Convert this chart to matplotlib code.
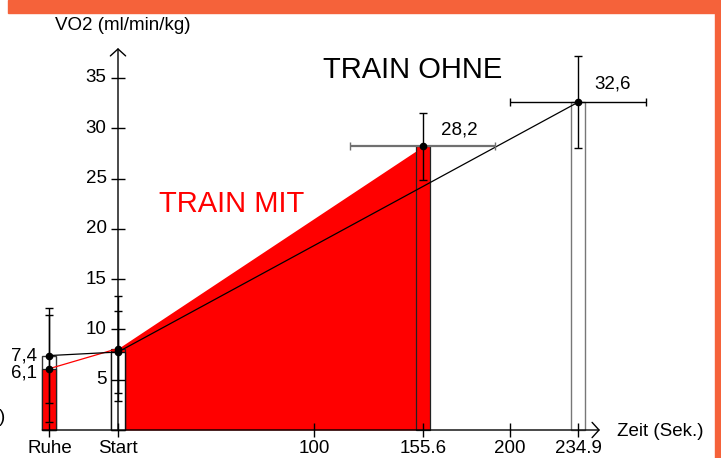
import matplotlib
matplotlib.use("Agg")
import matplotlib.pyplot as plt
from matplotlib.patches import Rectangle

plt.rcParams['font.family'] = ['Liberation Sans', 'DejaVu Sans']

# ---- data -------------------------------------------------------------
tick_pos = [-35, 0, 100, 155.6, 200, 234.9]
tick_labels = ['Ruhe', 'Start', '100', '155.6', '200', '234.9']
y_ticks = [5, 10, 15, 20, 25, 30, 35]

# "TRAIN MIT" series (red)
mit_x = [-35, 0, 155.6]
mit_y = [6.1, 8.1, 28.2]
mit_yerr = [5.3, 5.2, 3.3]
mit_xerr = [0, 0, 37.0]

# "TRAIN OHNE" series (white / black)
ohne_x = [-35, 0, 234.9]
ohne_y = [7.4, 7.75, 32.6]
ohne_yerr = [4.7, 4.05, 4.55]
ohne_xerr = [0, 0, 34.7]

value_labels_mit = {0: '6,1', 2: '28,2'}
value_labels_ohne = {0: '7,4', 2: '32,6'}

# ---- figure -----------------------------------------------------------
W, H = 721, 458
fig = plt.figure(figsize=(W / 100, H / 100), dpi=100)
ax = fig.add_axes([0, 0, 1, 1])
X_ORIGIN, X_SCALE = 118, 1.96      # pixel of t=0, pixels per second
Y_ORIGIN, Y_SCALE = 430, 10.06     # pixel of v=0, pixels per ml/min/kg
ax.set_xlim(-X_ORIGIN / X_SCALE, (W - X_ORIGIN) / X_SCALE)
ax.set_ylim((Y_ORIGIN - H) / Y_SCALE, Y_ORIGIN / Y_SCALE)
ax.axis('off')

FS = 13.5
RED = '#ff0000'
BAR_W = 7.1

# red area under the MIT course
ax.fill_between(mit_x[1:], mit_y[1:], 0, color=RED, lw=0, zorder=1)

# bars
mit_z = [4, 2, 4]
for x, y, z in zip(mit_x, mit_y, mit_z):
    ax.bar(x, y, width=BAR_W, color=RED, edgecolor='#222222', linewidth=0.9, zorder=z)
ohne_edge = ['#333333', '#111111', '#777777']
for x, y, ec in zip(ohne_x, ohne_y, ohne_edge):
    ax.bar(x, y, width=BAR_W, color='white', edgecolor=ec, linewidth=1.0, zorder=3)

# connecting lines
ax.plot(mit_x[:2], mit_y[:2], color=RED, lw=0.9, zorder=5)
ax.plot(ohne_x, ohne_y, color='black', lw=0.9, zorder=5)

# error bars
ax.errorbar(mit_x, mit_y, yerr=mit_yerr, fmt='none', ecolor='black',
            elinewidth=1.0, capsize=3, capthick=1.0, zorder=6)
ax.errorbar(ohne_x, ohne_y, yerr=ohne_yerr, fmt='none', ecolor='black',
            elinewidth=1.0, capsize=3, capthick=1.0, zorder=6)
ax.errorbar(mit_x[2:], mit_y[2:], xerr=mit_xerr[2:], fmt='none', ecolor='#707070',
            elinewidth=1.6, capsize=3, capthick=1.0, zorder=6)
ax.errorbar(ohne_x[2:], ohne_y[2:], xerr=ohne_xerr[2:], fmt='none', ecolor='black',
            elinewidth=1.0, capsize=3, capthick=1.0, zorder=6)

# points
ax.plot(mit_x, mit_y, 'o', color='black', ms=4.5, zorder=7)
ax.plot(ohne_x, ohne_y, 'o', color='black', ms=4.5, zorder=7)

# axes with arrow heads
arrow = dict(arrowstyle='->,head_length=0.5,head_width=0.55', color='black',
             lw=1.0, shrinkA=0, shrinkB=0, mutation_scale=10)
ax.annotate('', xy=(0, 37.97), xytext=(0, 0), arrowprops=arrow, zorder=8)
ax.annotate('', xy=(245.9, 0), xytext=(-38.6, 0), arrowprops=arrow, zorder=8)

# tick marks
ax.plot([0] * len(y_ticks), y_ticks, ls='none', marker='_', ms=10,
        mew=1.0, color='black', zorder=8)
ax.plot(tick_pos, [0] * len(tick_pos), ls='none', marker='|', ms=10,
        mew=1.0, color='black', zorder=8)

# tick labels
for v in y_ticks:
    ax.text(-5.8, v, str(v), ha='right', va='center', fontsize=FS)
for t, lab in zip(tick_pos, tick_labels):
    ax.text(t, -2.3, lab, ha='center', va='baseline', fontsize=FS)

# axis titles
ax.text(-32.2, 40.2, 'VO2 (ml/min/kg)', ha='left', va='center', fontsize=FS)
ax.text(254.6, -0.15, 'Zeit (Sek.)', ha='left', va='center', fontsize=FS)

# value labels
ax.text(-41.5, 7.4, value_labels_ohne[0], ha='right', va='center', fontsize=FS)
ax.text(-41.5, 5.7, value_labels_mit[0], ha='right', va='center', fontsize=FS)
ax.text(164.8, 29.8, value_labels_mit[2], ha='left', va='center', fontsize=FS)
ax.text(242.8, 34.4, value_labels_ohne[2], ha='left', va='center', fontsize=FS)

# series titles
ax.text(150.5, 35.8, 'TRAIN OHNE', ha='center', va='center', fontsize=21, color='black')
ax.text(58.2, 22.5, 'TRAIN MIT', ha='center', va='center', fontsize=21, color=RED)

# stray closing bracket at the left margin
fig.text(5 / W, 1 - 417 / H, ')', ha='right', va='center', fontsize=FS)

# orange frame
ORANGE = '#f5623a'
fig.patches.append(Rectangle((8 / W, 1 - 13 / H), 1, 13 / H, transform=fig.transFigure,
                             color=ORANGE, zorder=10))
fig.patches.append(Rectangle((715 / W, 0), 1, 1, transform=fig.transFigure,
                             color=ORANGE, zorder=10))

fig.savefig('out.png', dpi=100)
